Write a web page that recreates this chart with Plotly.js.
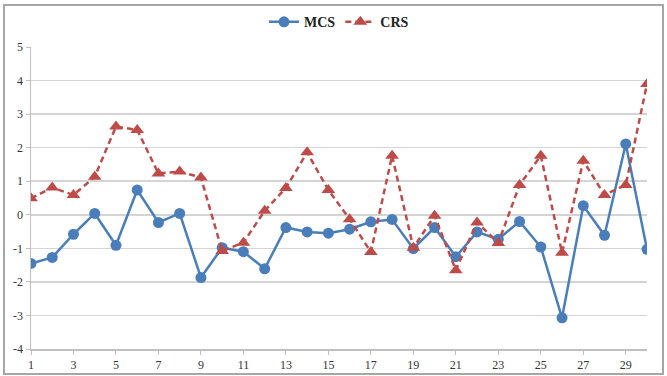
<!DOCTYPE html>
<html>
<head>
<meta charset="utf-8">
<script src="https://cdn.plot.ly/plotly-3.0.1.min.js"></script>
<style>
  html, body { margin: 0; padding: 0; background: #ffffff; }
  #wrap { position: relative; width: 667px; height: 376px; }
  #chart { position: absolute; left: 0; top: 0; width: 667px; height: 376px; }
  #frame {
    position: absolute; left: 3px; top: 4px; width: 657px; height: 367px;
    border: 2px solid #a6a6a6; pointer-events: none;
  }
</style>
</head>
<body>
<div id="wrap">
  <div id="chart"></div>
  <div id="frame"></div>
</div>
<script>
// Observation index 1..30
const samples = [1,2,3,4,5,6,7,8,9,10,11,12,13,14,15,16,17,18,19,20,21,22,23,24,25,26,27,28,29,30];

const mcs = [-1.45, -1.27, -0.58, 0.04, -0.91, 0.74, -0.23, 0.04, -1.87, -0.98,
             -1.10, -1.61, -0.38, -0.51, -0.55, -0.43, -0.21, -0.14, -1.01, -0.38,
             -1.25, -0.51, -0.73, -0.20, -0.96, -3.07, 0.27, -0.61, 2.11, -1.03];

const crs = [0.49, 0.81, 0.59, 1.13, 2.63, 2.53, 1.23, 1.29, 1.11, -1.08,
             -0.83, 0.12, 0.80, 1.86, 0.74, -0.13, -1.11, 1.76, -0.98, -0.03,
             -1.65, -0.23, -0.84, 0.89, 1.76, -1.13, 1.61, 0.59, 0.89, 3.90];

const xTicks = [1,3,5,7,9,11,13,15,17,19,21,23,25,27,29];
const yTicks = [-4,-3,-2,-1,0,1,2,3,4,5];

const serif = "'Liberation Serif', 'Times New Roman', serif";

const traces = [
  {
    x: samples, y: mcs, name: 'MCS', type: 'scatter', mode: 'lines+markers',
    line: { color: '#4A7EBB', width: 2.5 },
    marker: { symbol: 'circle', size: 11, color: '#4A7EBB' }
  },
  {
    x: samples, y: crs, name: 'CRS', type: 'scatter', mode: 'lines+markers',
    line: { color: '#BE4B48', width: 2.5, dash: '6px,4px' },
    marker: { symbol: 'triangle-up', size: 12, color: '#BE4B48' }
  }
];

const layout = {
  width: 667, height: 376,
  margin: { l: 31, r: 20, t: 46.5, b: 27, pad: 0, autoexpand: false },
  paper_bgcolor: '#ffffff', plot_bgcolor: '#ffffff',
  showlegend: true,
  legend: {
    orientation: 'h', x: 0.5, xanchor: 'center',
    yref: 'container', y: 0.941, yanchor: 'middle',
    font: { family: serif, size: 14, color: '#222222', weight: 'bold' },
    itemwidth: 30, tracegroupgap: 0, bgcolor: 'rgba(0,0,0,0)'
  },
  xaxis: {
    type: 'linear', range: [1, 30], tickvals: xTicks, ticktext: xTicks.map(String),
    showgrid: false, zeroline: false,
    showline: true, linecolor: '#bfbfbf', linewidth: 1.5,
    ticks: 'outside', ticklen: 4, tickcolor: '#bfbfbf', tickwidth: 1,
    tickfont: { family: serif, size: 12, color: '#333333' }
  },
  yaxis: {
    range: [-4, 5], tickvals: yTicks, ticktext: yTicks.map(String),
    showgrid: true, gridcolor: '#d4d4d4', gridwidth: 1.5, zeroline: false,
    showline: true, linecolor: '#bfbfbf', linewidth: 1.5,
    ticks: 'outside', ticklen: 4, tickcolor: '#bfbfbf', tickwidth: 1,
    tickfont: { family: serif, size: 12, color: '#333333' }
  }
};

Plotly.newPlot('chart', traces, layout, { displayModeBar: false, staticPlot: true });
</script>
</body>
</html>
